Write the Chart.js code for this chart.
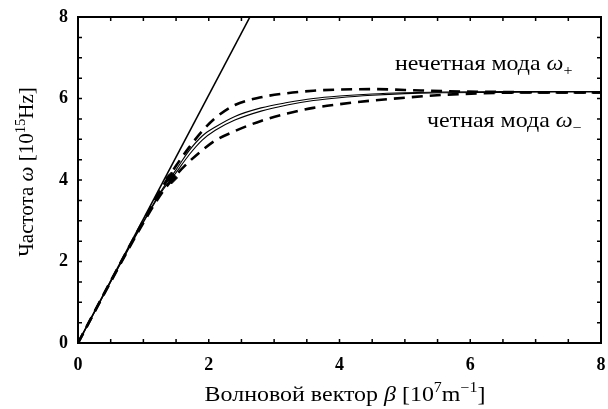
<!DOCTYPE html>
<html>
<head>
<meta charset="utf-8">
<script src="https://cdn.jsdelivr.net/npm/chart.js@4.4.1/dist/chart.umd.min.js"></script>
<style>
  html, body { margin: 0; padding: 0; background: #fff; }
  #wrap { width: 608px; height: 409px; }
</style>
</head>
<body>
<div id="wrap"><canvas id="disp" width="608" height="409"></canvas></div>
<script>
// wave vector grid, 10^7 m^-1
const beta = [0, 0.5, 1.0, 1.3, 1.5, 1.7, 1.9, 2.1, 2.4, 2.8, 3.2, 3.6, 4.0, 4.5, 5.0, 5.6, 6.5, 7.3, 8.0];
// frequency, 10^15 Hz
const dashUpper = [0, 1.52, 3.0, 3.85, 4.35, 4.8, 5.2, 5.52, 5.84, 6.03, 6.13, 6.19, 6.22, 6.23, 6.21, 6.18, 6.16, 6.15, 6.15];
const solidUpper = [0, 1.52, 2.98, 3.8, 4.25, 4.72, 5.08, 5.3, 5.56, 5.77, 5.9, 6.0, 6.06, 6.11, 6.14, 6.16, 6.17, 6.17, 6.17];
const solidLower = [0, 1.5, 2.96, 3.76, 4.18, 4.62, 4.98, 5.22, 5.47, 5.69, 5.84, 5.95, 6.02, 6.08, 6.12, 6.14, 6.15, 6.16, 6.16];
const dashLower = [0, 1.5, 2.95, 3.72, 4.12, 4.45, 4.73, 4.97, 5.2, 5.45, 5.63, 5.77, 5.86, 5.95, 6.02, 6.09, 6.14, 6.15, 6.15];
// light line
const lightB = [0, 2.63];
const lightW = [0, 8];
// crossing point marker
const markB = [1.43];
const markW = [4.05];

const xTicks = [0, 2, 4, 6, 8];
const yTicks = [0, 2, 4, 6, 8];

const pts = (xs, ys) => xs.map((x, i) => ({ x: x, y: ys[i] }));

const SERIF = '"Liberation Serif", "DejaVu Serif", serif';

// draws a run of text pieces: [text, style] where style is 'n', 'i', 'sup', 'sub'
// sx stretches the run horizontally
function drawRich(ctx, parts, x, y, size, align, sx) {
  const fontFor = s => {
    if (s === 'i') return 'italic ' + size + 'px ' + SERIF;
    if (s === 'sup' || s === 'sub') return Math.round(size * 0.68) + 'px ' + SERIF;
    return size + 'px ' + SERIF;
  };
  let total = 0;
  parts.forEach(p => { ctx.font = fontFor(p[1]); total += ctx.measureText(p[0]).width; });
  ctx.save();
  ctx.translate(x, y);
  ctx.scale(sx, 1);
  let cx = align === 'center' ? -total / 2 : 0;
  ctx.textBaseline = 'alphabetic';
  ctx.textAlign = 'left';
  parts.forEach(p => {
    ctx.font = fontFor(p[1]);
    let dy = 0;
    if (p[1] === 'sup') dy = -size * 0.42;
    if (p[1] === 'sub') dy = size * 0.25;
    ctx.fillText(p[0], cx, dy);
    cx += ctx.measureText(p[0]).width;
  });
  ctx.restore();
}

const framePlugin = {
  id: 'frame',
  afterDatasetsDraw(chart) {
    const ctx = chart.ctx;
    const a = chart.chartArea;
    const xs = chart.scales.x, ys = chart.scales.y;
    ctx.save();
    ctx.strokeStyle = '#000';
    ctx.fillStyle = '#000';
    // inward ticks every 0.5 on all four sides
    ctx.lineWidth = 1.5;
    ctx.beginPath();
    for (let v = 0; v <= 8.001; v += 0.5) {
      const px = xs.getPixelForValue(v);
      ctx.moveTo(px, a.bottom); ctx.lineTo(px, a.bottom - 4);
      ctx.moveTo(px, a.top); ctx.lineTo(px, a.top + 4);
      const py = ys.getPixelForValue(v);
      ctx.moveTo(a.left, py); ctx.lineTo(a.left + 4, py);
      ctx.moveTo(a.right, py); ctx.lineTo(a.right - 4, py);
    }
    ctx.stroke();
    ctx.lineWidth = 2;
    ctx.strokeRect(a.left, a.top, a.right - a.left, a.bottom - a.top);

    // axis titles
    drawRich(ctx, [['Волновой вектор ', 'n'], ['β', 'i'], [' [10', 'n'], ['7', 'sup'], ['m', 'n'], ['−1', 'sup'], [']', 'n']],
      345, 401, 21, 'center', 1.14);
    ctx.save();
    ctx.translate(33, 172);
    ctx.rotate(-Math.PI / 2);
    drawRich(ctx, [['Частота ', 'n'], ['ω', 'i'], [' [10', 'n'], ['15', 'sup'], ['Hz]', 'n']], 0, 0, 20, 'center', 1.05);
    ctx.restore();

    // mode labels
    drawRich(ctx, [['нечетная мода ', 'n'], ['ω', 'i'], ['+', 'sub']], 395, 70, 21, 'left', 1.14);
    drawRich(ctx, [['четная мода ', 'n'], ['ω', 'i'], ['−', 'sub']], 427, 127, 21, 'left', 1.14);
    ctx.restore();
  }
};

const dashStyle = { borderColor: '#000', borderWidth: 2.6, borderDash: [11, 7], pointRadius: 0, fill: false, cubicInterpolationMode: 'monotone' };
const solidStyle = { borderColor: '#000', borderWidth: 1.1, pointRadius: 0, fill: false, cubicInterpolationMode: 'monotone' };

new Chart(document.getElementById('disp'), {
  type: 'line',
  data: {
    datasets: [
      { data: pts(lightB, lightW), borderColor: '#000', borderWidth: 1.6, pointRadius: 0, fill: false },
      Object.assign({ data: pts(beta, dashUpper) }, dashStyle),
      Object.assign({ data: pts(beta, solidUpper) }, solidStyle),
      Object.assign({ data: pts(beta, solidLower) }, solidStyle),
      Object.assign({ data: pts(beta, dashLower) }, dashStyle),
      { data: pts(markB, markW), showLine: false, pointStyle: 'rectRot', pointRadius: 6, backgroundColor: '#000', borderColor: '#000' }
    ]
  },
  options: {
    responsive: false,
    animation: false,
    layout: { padding: { top: 17, right: 3, left: 0, bottom: 0 } },
    plugins: { legend: { display: false }, tooltip: { enabled: false } },
    scales: {
      x: {
        type: 'linear', min: 0, max: 8,
        grid: { display: false, drawTicks: false },
        border: { display: false },
        afterBuildTicks: s => { s.ticks = xTicks.map(v => ({ value: v })); },
        afterFit: s => { s.height = 66; s.paddingLeft = 0; s.paddingRight = 0; },
        ticks: { color: '#000', padding: 12, font: { family: SERIF, size: 18, weight: 'bold' } }
      },
      y: {
        type: 'linear', min: 0, max: 8,
        grid: { display: false, drawTicks: false },
        border: { display: false },
        afterBuildTicks: s => { s.ticks = yTicks.map(v => ({ value: v })); },
        afterFit: s => { s.width = 78; s.paddingTop = 0; s.paddingBottom = 0; },
        ticks: { color: '#000', padding: 10, font: { family: SERIF, size: 18, weight: 'bold' } }
      }
    }
  },
  plugins: [framePlugin]
});
</script>
</body>
</html>
